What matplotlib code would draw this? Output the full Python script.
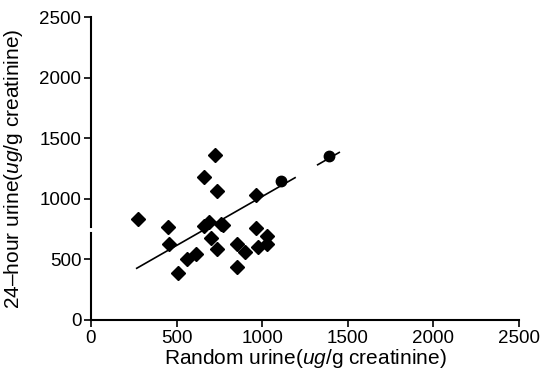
import matplotlib
matplotlib.use('Agg')
import numpy as np
import matplotlib.pyplot as plt
import matplotlib.transforms as mtransforms

plt.rcParams['font.family'] = ['Liberation Sans', 'DejaVu Sans']
plt.rcParams['mathtext.fontset'] = 'custom'
plt.rcParams['mathtext.it'] = 'Liberation Sans:italic'
plt.rcParams['mathtext.rm'] = 'Liberation Sans'

# random urine (x) vs 24-hour urine (y), ug/g creatinine
rand_x = [273, 448, 456, 506, 562, 612, 660, 726, 734, 660, 691, 758, 773,
          701, 734, 855, 901, 855, 962, 964, 974, 1030, 1030]
day_y = [833, 765, 625, 385, 503, 545, 1182, 1361, 1062, 778, 806, 790, 784,
         674, 586, 627, 564, 440, 1031, 759, 600, 693, 625]
circ_x = [1110, 1390]
circ_y = [1149, 1353]

# regression line y = a + b*x (drawn in two pieces as in the print)
fit_a, fit_b = 211, 0.808
fit_ranges = [(267, 1192), (1324, 1450)]

ticks = [0, 500, 1000, 1500, 2000, 2500]

fig = plt.figure(figsize=(5.45, 3.77), dpi=100)
ax = fig.add_axes([91/545, 1-320/377, 428/545, 303/377])

ax.plot(rand_x, day_y, 'D', color='black', ms=7.5, mec='black')
ax.plot(circ_x, circ_y, 'o', color='black', ms=7.5)
for x0, x1 in fit_ranges:
    xs = np.array([x0, x1])
    ax.plot(xs, fit_a + fit_b*xs, color='black', lw=1.2)

ax.set_xlim(0, 2500)
ax.set_ylim(0, 2500)
ax.set_xticks(ticks)
ax.set_yticks(ticks)
ax.tick_params(labelsize=13.5, length=5, width=1.2, direction='out', pad=2)

for s in ['top', 'right', 'left']:
    ax.spines[s].set_visible(False)
ax.spines['bottom'].set_linewidth(1.5)

# left axis with a break around 750
trans = mtransforms.blended_transform_factory(ax.transAxes, ax.transData)
ax.plot([0, 0], [0, 718], color='black', lw=1.5, transform=trans, clip_on=False)
ax.plot([0, 0], [767, 2500], color='black', lw=1.5, transform=trans, clip_on=False)

ax.set_xlabel(r'Random urine($\it{ug}$/g creatinine)', fontsize=15)
ax.set_ylabel(r'24–hour urine($\it{ug}$/g creatinine)', fontsize=15)
ax.xaxis.set_label_coords(0.5, -0.09)
ax.yaxis.set_label_coords(-0.154, 0.5)

fig.savefig('out.png', dpi=100)
